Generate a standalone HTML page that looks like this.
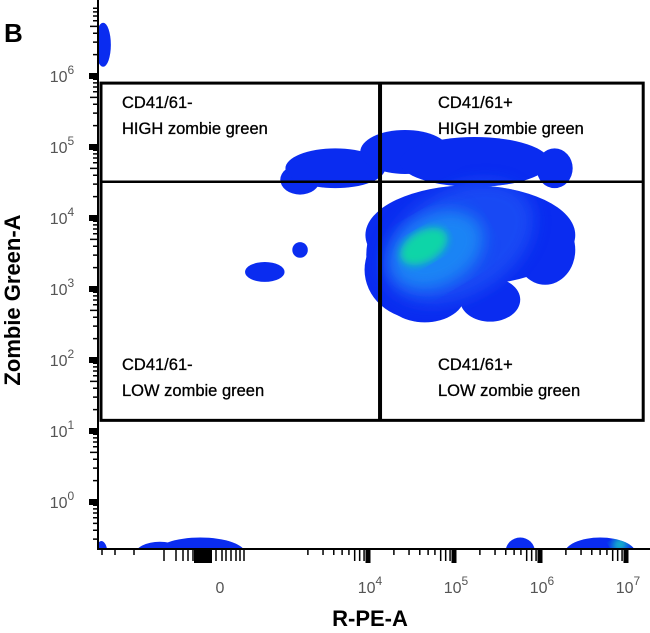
<!DOCTYPE html>
<html><head><meta charset="utf-8"><style>
html,body{margin:0;padding:0;background:#fff;}
svg{display:block;font-family:"Liberation Sans",sans-serif;}
</style></head><body>
<svg id="chart" width="650" height="633" viewBox="0 0 650 633" xmlns="http://www.w3.org/2000/svg">
<defs>
<clipPath id="plotclip"><rect x="99" y="0" width="551" height="548"/></clipPath>
<clipPath id="blobclip"></clipPath>
<filter id="blur6"><feGaussianBlur stdDeviation="8"/></filter>
<filter id="blur3"><feGaussianBlur stdDeviation="4"/></filter>
</defs>
<text x="4" y="42" font-size="26" font-weight="bold" fill="#000">B</text>
<g clip-path="url(#plotclip)"><g id="blobs"></g></g>
<g clip-path="url(#plotclip)"><g id="glow" clip-path="url(#blobclip)"></g></g>
<g id="axes"></g>
<g id="gates"></g>
<text x="20" y="300" font-size="22" font-weight="bold" text-anchor="middle" transform="rotate(-90 20 300)">Zombie Green-A</text>
<text x="370" y="626" font-size="22" font-weight="bold" text-anchor="middle">R-PE-A</text>
</svg>
<script>
// Axis decades
const yDecades = [0,1,2,3,4,5,6];
const xDecades = [4,5,6,7];
// Populations: log10 x, log10 y, x-radius (decades), y-radius (decades)
const popX  = [3.21,3.62,4.43,5.24,6.17, 5.19,4.60,4.66,5.42,6.06,4.14, 3.21,2.80, 0.92, 2.05,1.58,0.90,5.77,6.70];
const popY  = [4.54,4.70,4.93,4.79,4.70, 3.76,3.27,2.92,2.85,3.55,3.48, 3.55,3.24, 6.44, -0.72,-0.74,-0.72,-0.70,-0.72];
const popRX = [0.23,0.58,0.52,0.87,0.21, 1.22,0.64,0.47,0.35,0.35,0.16, 0.09,0.23, 0.09, 0.52,0.29,0.07,0.17,0.41];
const popRY = [0.21,0.28,0.31,0.35,0.28, 0.70,0.70,0.39,0.31,0.49,0.42, 0.11,0.14, 0.31, 0.22,0.18,0.17,0.20,0.22];
// Density cores: log10 x, log10 y, rx, ry
const coreX  = [5.05,4.80,4.65,6.93];
const coreY  = [3.65,3.55,3.60,-0.60];
const coreRX = [0.95,0.58,0.30,0.10];
const coreRY = [0.75,0.50,0.22,0.10];
// Gates (data coordinates)
const gateX = [0.85,4.14,7.2];
const gateY = [5.90,4.51,1.15];
const quadLabels = ["CD41/61-|HIGH zombie green","CD41/61+|HIGH zombie green","CD41/61-|LOW zombie green","CD41/61+|LOW zombie green"];
const xTickLabels = ["0","4","5","6","7"];

const NS="http://www.w3.org/2000/svg";
const X0=98, Y0=549;
function sx(v){return 368+(v-4)*86;}
function sy(v){return 218-(v-4)*71;}
function mk(tag,attrs,parent){const e=document.createElementNS(NS,tag);for(const k in attrs)e.setAttribute(k,attrs[k]);parent.appendChild(e);return e;}

const blobs=document.getElementById('blobs');
const bclip=document.getElementById('blobclip');
popX.forEach((x,i)=>{
  const a={cx:sx(x),cy:sy(popY[i]),rx:popRX[i]*86,ry:popRY[i]*71};
  const e=mk('ellipse',Object.assign({fill:'#0a2cf0'},a),blobs);
  
  
  mk('ellipse',a,bclip);
});
const glow=document.getElementById('glow');
const cols=['#1a50f5','#1a8ff5','#10e39a','#18d4c0'];
coreX.forEach((x,i)=>{
  const cx=sx(x),cy=sy(coreY[i]);
  const e=mk('ellipse',{cx:cx,cy:cy,rx:coreRX[i]*86,ry:coreRY[i]*71,fill:cols[i],opacity:0.85,filter:i>=2?'url(#blur3)':'url(#blur6)',transform:'rotate(-30 '+cx+' '+cy+')'},glow);
  
  
});

const axes=document.getElementById('axes');
mk('line',{x1:X0,y1:0,x2:X0,y2:Y0+1,stroke:'#000','stroke-width':2},axes);
mk('line',{x1:X0,y1:Y0,x2:650,y2:Y0,stroke:'#000','stroke-width':2},axes);
for(let d=0;d<=6;d++){
  const y=sy(d);
  mk('rect',{x:X0-9,y:y-3,width:9,height:6,fill:'#000'},axes);
  for(let m=2;m<=9;m++){const yy=sy(d+Math.log10(m));mk('line',{x1:X0-(m==5?8:5),y1:yy,x2:X0,y2:yy,stroke:'#000','stroke-width':1.5},axes);}
}
for(let m=2;m<=9;m++){const yy=sy(-1+Math.log10(m));if(yy<Y0)mk('line',{x1:X0-5,y1:yy,x2:X0,y2:yy,stroke:'#000','stroke-width':1.5},axes);}
yDecades.forEach(d=>{
  const t=mk('text',{x:62,y:sy(d)+6,'font-size':16,fill:'#555','text-anchor':'middle'},axes);
  t.innerHTML='10<tspan dy="-8" font-size="12">'+d+'</tspan>';
  
  
});
for(let d=3;d<=7;d++){
  const x=sx(d);
  if(d>=4) mk('rect',{x:x-2.5,y:Y0,width:5,height:14,fill:'#000'},axes);
  if(d<7) for(let m=2;m<=9;m++){const xx=sx(d+Math.log10(m));mk('line',{x1:xx,y1:Y0,x2:xx,y2:Y0+(m>=7?12:6),stroke:'#000','stroke-width':1.5},axes);}
}
[102,115,134,164,176,183,188,193,200,206,210,216,222,226,231,236,240,244].forEach(x=>mk('line',{x1:x,y1:Y0,x2:x,y2:Y0+(x>=164?12:6),stroke:'#000','stroke-width':1.5},axes));
mk('rect',{x:194,y:Y0,width:18,height:14,fill:'#000'},axes);
const xl=mk('text',{x:220,y:593,'font-size':16,fill:'#555','text-anchor':'middle'},axes);xl.textContent=xTickLabels[0];
xDecades.forEach((d,i)=>{
  const t=mk('text',{x:sx(d)+2,y:593,'font-size':16,fill:'#555','text-anchor':'middle'},axes);
  t.innerHTML='10<tspan dy="-8" font-size="12">'+xTickLabels[i+1]+'</tspan>';
  
  
});

const gates=document.getElementById('gates');
const gx1=sx(gateX[1]),gx2=sx(gateX[2]),gy0=sy(gateY[0]),gy1=sy(gateY[1]),gy2=sy(gateY[2]);
mk('rect',{x:101,y:gy0,width:gx2-101,height:gy2-gy0,fill:'none',stroke:'#000','stroke-width':3},gates);
mk('line',{x1:gx1,y1:gy0,x2:gx1,y2:gy2,stroke:'#000','stroke-width':4},gates);
mk('line',{x1:101,y1:gy1,x2:gx2,y2:gy1,stroke:'#000','stroke-width':2.5},gates);
const lpos=[[122,108],[438,108],[122,370],[438,370]];
quadLabels.forEach((s,i)=>{
  const [a,b]=s.split('|');
  const t=mk('text',{x:lpos[i][0],y:lpos[i][1],'font-size':16.5,fill:'#000',stroke:'#000','stroke-width':0.3},gates);
  t.innerHTML='<tspan x="'+lpos[i][0]+'">'+a+'</tspan><tspan x="'+lpos[i][0]+'" dy="26">'+b+'</tspan>';
  
  
});
</script>
</body></html>
